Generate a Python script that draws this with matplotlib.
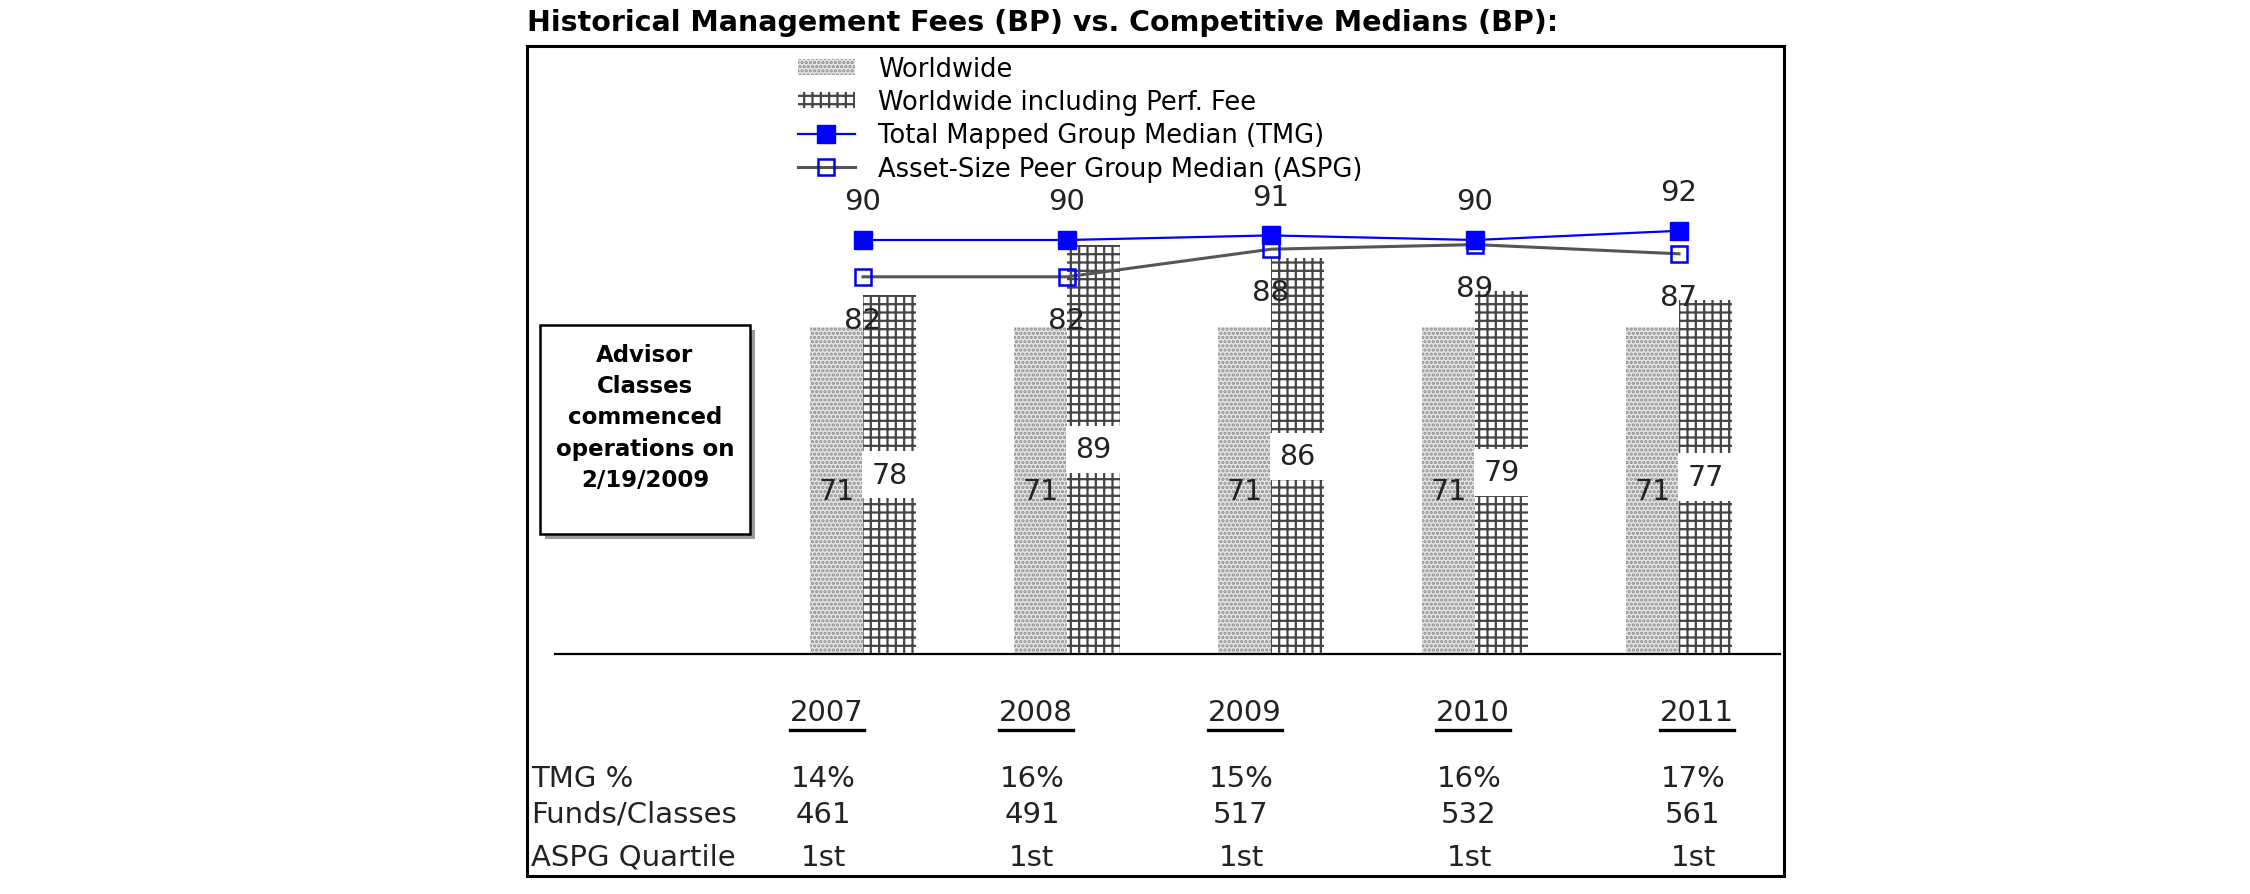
import numpy as np
import matplotlib.pyplot as plt
from matplotlib.patches import Rectangle, Patch
from matplotlib.lines import Line2D

years = ['2007', '2008', '2009', '2010', '2011']
worldwide = [71, 71, 71, 71, 71]
worldwide_perf = [78, 89, 86, 79, 77]
tmg_median = [90, 90, 91, 90, 92]
aspg_median = [82, 82, 88, 89, 87]

row_labels = ['TMG %', 'Funds/Classes', 'ASPG Quartile']
tmg_pct = ['14%', '16%', '15%', '16%', '17%']
funds_classes = ['461', '491', '517', '532', '561']
aspg_quartile = ['1st', '1st', '1st', '1st', '1st']

W, H = 2250, 895

# pixel -> figure fraction
def fx(px):
    return px / W

def fy(py):
    return 1 - py / H


def main():
    plt.rcParams['hatch.linewidth'] = 1.6
    fig = plt.figure(figsize=(22.5, 8.95), dpi=100)

    # outer frame
    fig.add_artist(Rectangle((fx(527), fy(877)), fx(1784) - fx(527), fy(47) - fy(877),
                             transform=fig.transFigure, fill=False, lw=2.2, edgecolor='black'))

    fig.text(fx(527), fy(23), 'Historical Management Fees (BP) vs. Competitive Medians (BP):',
             fontsize=20.5, fontweight='bold', ha='left', va='center')

    ax = fig.add_axes([fx(555), fy(655), fx(1780) - fx(555), fy(195) - fy(655)])
    ax.set_xlim(-1.51, 4.495)
    ax.set_ylim(0, 100)
    for s in ['left', 'right', 'top']:
        ax.spines[s].set_visible(False)
    ax.spines['bottom'].set_linewidth(1.6)
    ax.set_xticks([])
    ax.set_yticks([])
    ax.patch.set_visible(False)

    x = np.arange(len(years))
    bw = 0.26
    ww_style = dict(facecolor='#e6e6e6', edgecolor='#8a8a8a', hatch='....', linewidth=0)
    perf_style = dict(facecolor='white', edgecolor='#444444', hatch='++', linewidth=0)
    ax.bar(x - bw / 2, worldwide, bw, **ww_style)
    ax.bar(x + bw / 2, worldwide_perf, bw, **perf_style)

    for xi, v in zip(x, worldwide):
        ax.text(xi - bw / 2, v / 2, str(v), ha='center', va='center', fontsize=20.5, color='#222222')
    for xi, v in zip(x, worldwide_perf):
        ax.text(xi + bw / 2, v / 2, str(v), ha='center', va='center', fontsize=20.5, color='#222222',
                bbox=dict(facecolor='white', edgecolor='none', pad=7))

    aspg_style = dict(color='#555555', lw=2.2, marker='s', ms=12, mfc='none', mec='#0000ee', mew=1.8)
    tmg_style = dict(color='#0000ff', lw=1.6, marker='s', ms=13, mfc='#0000ff', mec='#0000ff')
    ax.plot(x, aspg_median, zorder=3, **aspg_style)
    ax.plot(x, tmg_median, zorder=4, **tmg_style)

    for xi, v in zip(x, tmg_median):
        ax.annotate(str(v), (xi, v), xytext=(0, 28), textcoords='offset points',
                    ha='center', va='center', fontsize=21, color='#222222')
    for xi, v in zip(x, aspg_median):
        ax.annotate(str(v), (xi, v), xytext=(0, -31), textcoords='offset points',
                    ha='center', va='center', fontsize=21, color='#222222', zorder=5)

    handles = [Patch(**ww_style), Patch(**perf_style),
               Line2D([], [], **tmg_style), Line2D([], [], **aspg_style)]
    labels = ['Worldwide', 'Worldwide including Perf. Fee',
              'Total Mapped Group Median (TMG)', 'Asset-Size Peer Group Median (ASPG)']
    fig.legend(handles, labels, loc='upper left', bbox_to_anchor=(fx(798), fy(57)),
               frameon=False, fontsize=18.5, handlelength=2.2, handleheight=0.6,
               labelspacing=0.28, handletextpad=0.9, borderaxespad=0, borderpad=0)

    # note box with shadow
    fig.add_artist(Rectangle((fx(545), fy(540)), fx(750) - fx(540), fy(326) - fy(535),
                             transform=fig.transFigure, facecolor='#9a9a9a', edgecolor='none'))
    fig.add_artist(Rectangle((fx(540), fy(535)), fx(750) - fx(540), fy(326) - fy(535),
                             transform=fig.transFigure, facecolor='white', edgecolor='black', lw=1.8))
    fig.text(fx(645), fy(418), 'Advisor\nClasses\ncommenced\noperations on\n2/19/2009',
             ha='center', va='center', fontsize=16.5, fontweight='bold', linespacing=1.45)

    # table under the chart
    col_x = [827, 1036, 1245, 1473, 1697]
    row_y = [779, 815, 858]
    fig.canvas.draw()
    renderer = fig.canvas.get_renderer()
    for cx, yr in zip(col_x, years):
        t = fig.text(fx(cx), fy(713), yr, ha='center', va='center', fontsize=21, color='#222222')
        bb = t.get_window_extent(renderer)
        fig.add_artist(Line2D([bb.x0 / W, bb.x1 / W], [fy(731), fy(731)],
                              transform=fig.transFigure, color='black', lw=2.4))
    for ry, lab, vals in zip(row_y, row_labels, [tmg_pct, funds_classes, aspg_quartile]):
        fig.text(fx(531), fy(ry), lab, ha='left', va='center', fontsize=21, color='#222222')
        for cx, v in zip(col_x, vals):
            fig.text(fx(cx - 4), fy(ry), v, ha='center', va='center', fontsize=21, color='#222222')

    plt.savefig('out.png', dpi=100)


if __name__ == "__main__":
    main()
